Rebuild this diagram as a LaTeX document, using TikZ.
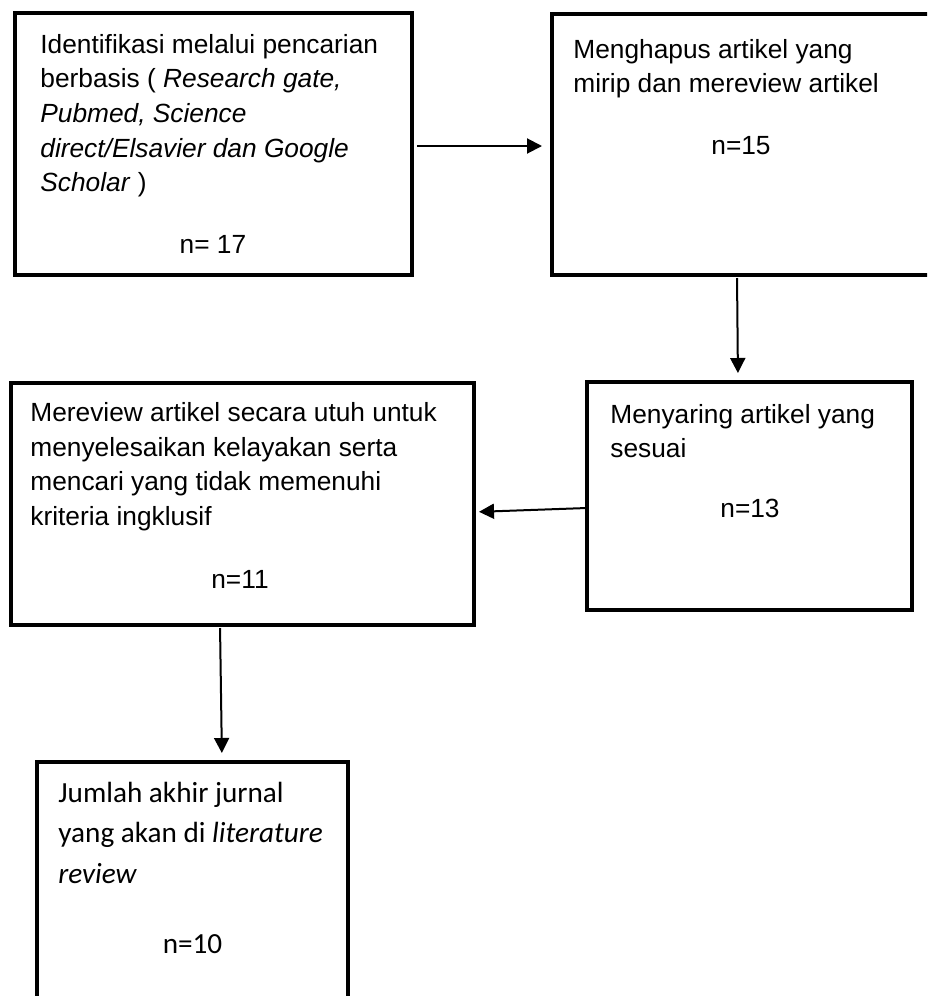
\documentclass[tikz,border=0pt]{standalone}
\usepackage{fontspec}
\setmainfont{Liberation Sans}
\newfontfamily\calfont{Carlito}
\usetikzlibrary{arrows.meta}
\begin{document}
\begin{tikzpicture}[x=0.5pt,y=-0.5pt,
  box/.style={draw, line width=2.3pt, line join=miter, rectangle, inner sep=0pt, outer sep=0pt},
  arr/.style={draw, line width=1pt, -{Triangle[length=7.5pt,width=7.5pt]}},
  txt/.style={anchor=base west, inner sep=0pt, font=\fontsize{13.15pt}{17.3pt}\selectfont},
  ntxt/.style={anchor=base, inner sep=0pt, font=\fontsize{13.15pt}{17.3pt}\selectfont},
  ctxt/.style={anchor=base west, inner sep=0pt, font=\calfont\fontsize{14.6pt}{20pt}\selectfont},
  cntxt/.style={anchor=base, inner sep=0pt, font=\calfont\fontsize{14.6pt}{20pt}\selectfont},
]
\clip (0,0) rectangle (927,996);
\fill[white] (0,0) rectangle (927,996);

% boxes
\node[box, minimum width=198.5pt, minimum height=131pt] (b1) at (213.5,144) {};
\node[box, minimum width=189pt, minimum height=130.5pt] (b2) at (741,144.5) {};
\node[box, minimum width=162.5pt, minimum height=114pt] (b3) at (749.5,496) {};
\node[box, minimum width=231.5pt, minimum height=121pt] (b4) at (242.5,504) {};
\node[box, minimum width=155.5pt, minimum height=124pt] (b5) at (192.5,886) {};

% box 1 text
\node[txt] (t1a) at (40,53.3) {Identifikasi melalui pencarian};
\node[txt] (t1b) at (40,87.9) {berbasis ( \textit{Research gate,}};
\node[txt] (t1c) at (40,122.5) {\textit{Pubmed, Science}};
\node[txt] (t1d) at (40,157.1) {\textit{direct/Elsavier dan Google}};
\node[txt] (t1e) at (40,191.7) {\textit{Scholar} )};
\node[ntxt] (n1) at (213,253) {n= 17};

% box 2 text
\node[txt] (t2a) at (573,58.5) {Menghapus artikel yang};
\node[txt] (t2b) at (573,92.5) {mirip dan mereview artikel};
\node[ntxt] (n2) at (741,154) {n=15};

% box 3 text
\node[txt] (t3a) at (610,423) {Menyaring artikel yang};
\node[txt] (t3b) at (610,457) {sesuai};
\node[ntxt] (n3) at (750,517) {n=13};

% box 4 text
\node[txt] (t4a) at (30,421.7) {Mereview artikel secara utuh untuk};
\node[txt] (t4b) at (30,456) {menyelesaikan kelayakan serta};
\node[txt] (t4c) at (30,490.5) {mencari yang tidak memenuhi};
\node[txt] (t4d) at (30,525) {kriteria ingklusif};
\node[ntxt] (n4) at (240,588) {n=11};

% box 5 text
\node[ctxt] (t5a) at (58,802) {Jumlah akhir jurnal};
\node[ctxt] (t5b) at (58,842) {yang akan di \textit{literature}};
\node[ctxt] (t5c) at (58,883) {\textit{review}};
\node[cntxt] (n5) at (192.5,953) {n=10};

% arrows
\draw[arr, shorten <=2.5pt, shorten >=5pt] ([yshift=-1pt]b1.east) -- ([yshift=-0.75pt]b2.west);
\draw[arr, shorten <=1.5pt, shorten >=4.5pt] ([xshift=-2pt]b2.south) -- ([xshift=-5.75pt]b3.north);
\draw[arr, shorten >=2.5pt] ([yshift=-6pt]b3.west) -- ([yshift=-4pt]b4.east);
\draw[arr, shorten <=1.5pt, shorten >=4.5pt] ([xshift=-11.25pt]b4.south) -- ([xshift=14.75pt]b5.north);
\end{tikzpicture}
\end{document}
